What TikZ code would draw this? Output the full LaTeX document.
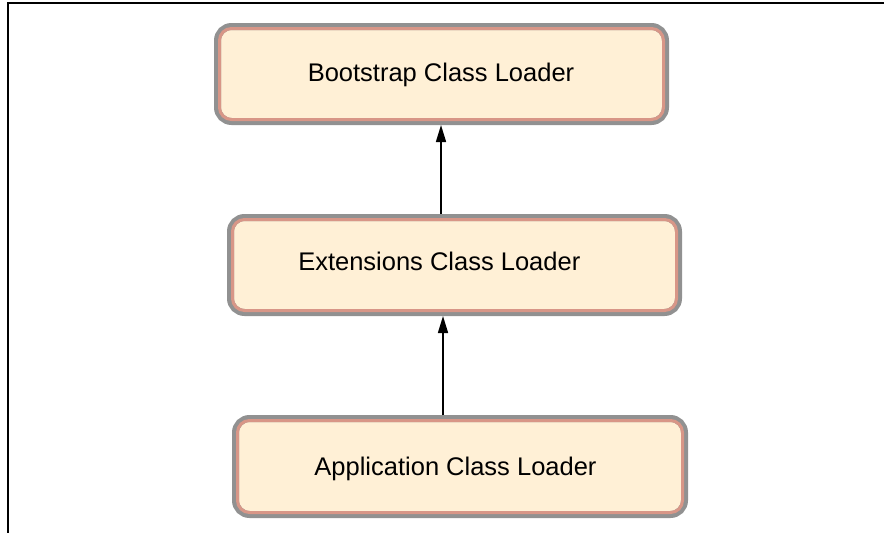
\documentclass[tikz,border=0pt]{standalone}
\usepackage{fontspec}
\setmainfont{Liberation Sans}
\usetikzlibrary{arrows.meta}
\definecolor{boxfill}{RGB}{255,240,214}
\definecolor{boxgray}{RGB}{145,145,145}
\definecolor{boxsalmon}{RGB}{216,150,135}
\tikzset{
  loaderbox/.style={draw=boxgray, line width=7pt, fill=boxfill, rounded corners=14pt,
    minimum width=448pt, minimum height=95pt, inner sep=0pt, outer sep=3.5pt},
  loadertext/.style={inner sep=0pt, anchor=base, font=\fontsize{25.5}{30}\selectfont},
  uparrow/.style={line width=1.5pt, -{Triangle[length=17pt,width=10pt]}},
  frameline/.style={line width=1.3pt, black}
}
\newcommand{\innerrim}[1]{%
  \draw[boxsalmon, line width=3pt, rounded corners=12pt]
    ([shift={(5.5pt,-5.5pt)}]#1.north west) rectangle ([shift={(-5.5pt,5.5pt)}]#1.south east);}
\begin{document}
\begin{tikzpicture}[x=1pt,y=1pt]
\useasboundingbox (0,0) rectangle (884,-533);
% frame
\coordinate (fa) at (8,-533);
\coordinate (fb) at (8,-3);
\coordinate (fc) at (884,-3);
\draw[frameline] (fa) -- (fb) -- (fc);
% boxes
\node[loaderbox] (b1) at (441.5,-74) {};
\node[loaderbox] (b2) at (454.5,-265) {};
\node[loaderbox, minimum width=449pt, minimum height=96pt] (b3) at (460,-466.5) {};
\innerrim{b1}
\innerrim{b2}
\innerrim{b3}
% texts
\node[loadertext] (t1) at (441,-81.7) {Bootstrap Class Loader};
\node[loadertext] (t2) at (439.3,-270.7) {Extensions Class Loader};
\node[loadertext] (t3) at (455.5,-475) {Application Class Loader};
% arrows
\coordinate (x1) at (441,0);
\coordinate (x2) at (443,0);
\draw[uparrow] (b2.north -| x1) -- (b1.south -| x1);
\draw[uparrow] (b3.north -| x2) -- (b2.south -| x2);
\end{tikzpicture}
\end{document}
